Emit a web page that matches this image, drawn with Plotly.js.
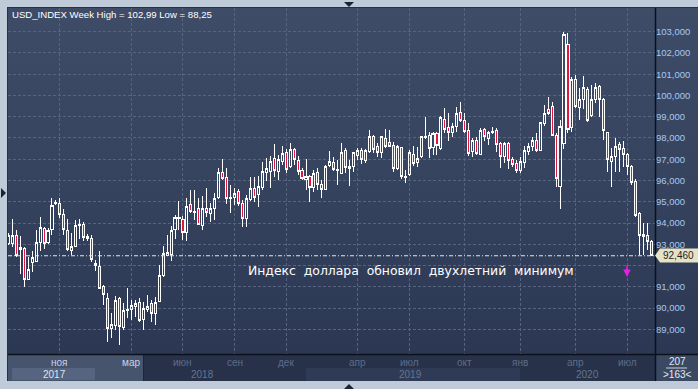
<!DOCTYPE html>
<html>
<head>
<meta charset="utf-8">
<script src="https://cdn.plot.ly/plotly-3.0.1.min.js"></script>
<style>
  html, body { margin:0; padding:0; background:#c0cbda; width:698px; height:389px; overflow:hidden; }
  #bg { position:absolute; left:8px; top:8px; width:690px; height:346px;
        background:linear-gradient(to bottom, #3f4c67 0%, #36435e 50%, #2c3853 100%); }
  #chart { position:absolute; left:0; top:0; width:698px; height:389px; }
  #chart .boxlayer path { shape-rendering: crispEdges; }
  #chart .gridlayer path { shape-rendering: crispEdges; }
</style>
</head>
<body>
<div id="bg"></div>
<div id="chart"></div>
<script>
// ---- DATA (weekly OHLC, USD_INDEX, 163 bars) ----
const openV = [
93.04,93.04,93.43,92.74,92.80,91.35,92.14,92.18,93.09,93.74,93.07,93.70,94.92,94.92,94.40,93.65,92.73,92.88,93.90,93.93,
93.38,93.27,92.10,91.97,91.00,90.45,89.04,89.20,90.45,89.09,89.90,89.93,90.09,90.25,89.46,89.93,90.22,89.75,90.30,91.52,
92.48,92.50,93.70,94.19,94.17,93.54,94.89,94.55,94.66,93.86,94.69,94.45,94.66,95.19,96.38,96.15,95.15,95.20,95.46,94.92,
94.22,95.11,95.63,95.32,95.68,96.40,96.41,97.04,96.41,96.91,97.31,96.68,97.46,96.93,96.46,96.07,96.21,95.68,96.38,95.82,
95.58,96.70,96.83,96.49,96.33,97.43,96.68,96.65,97.17,97.43,96.93,97.35,98.06,97.59,97.31,97.98,97.78,97.67,96.57,97.56,
96.21,96.26,97.24,96.84,97.12,98.01,98.14,97.56,98.19,97.51,98.85,98.48,98.25,98.53,99.19,98.84,98.37,97.35,97.90,97.24,
98.40,97.98,98.28,98.34,97.75,97.15,97.75,96.99,96.80,96.49,96.84,97.35,97.62,97.87,97.43,98.69,99.32,99.50,98.14,95.74,
97.75,102.42,98.50,100.73,99.44,99.79,100.30,99.08,99.82,100.44,99.82,98.25,96.88,97.15,97.71,97.51,97.20,96.65,95.97,94.45,
93.35,93.39,93.12];
const highV = [
93.55,94.18,93.67,93.38,92.85,92.40,92.70,93.67,94.30,93.82,93.78,95.16,95.08,95.16,94.64,94.18,93.51,94.14,94.20,94.06,
93.48,93.43,92.26,92.68,91.08,90.69,89.75,90.58,90.50,90.25,90.94,90.37,90.37,90.45,90.30,90.61,90.37,90.53,92.02,92.92,
93.43,93.86,94.37,95.03,94.33,95.16,95.55,95.55,95.16,95.27,95.67,94.96,95.39,96.57,96.99,96.57,95.78,95.63,95.58,95.08,
95.31,96.15,96.18,96.21,96.88,97.04,97.15,97.72,97.20,97.62,97.46,97.75,97.51,97.15,96.57,96.99,96.26,96.49,96.57,96.02,
96.73,97.40,97.09,96.96,97.75,97.51,96.96,97.36,97.51,97.51,97.46,98.37,98.14,97.75,98.06,98.41,98.37,97.83,97.67,97.59,
96.49,97.43,97.62,97.59,98.09,99.00,98.30,98.30,98.30,99.03,99.39,99.16,98.69,99.47,99.71,99.16,98.72,97.98,98.06,98.45,
98.45,98.34,98.53,98.45,97.83,97.83,97.83,97.09,96.96,97.12,97.62,97.75,98.03,98.22,98.77,99.55,99.94,99.71,98.22,98.84,
102.99,102.95,100.85,100.96,100.33,100.92,100.41,100.49,100.57,100.49,99.86,98.30,97.51,97.98,97.83,97.87,97.28,96.73,96.05,94.53,
94.01,93.98,93.20];
const lowV = [
92.95,92.88,92.41,91.60,91.01,91.30,91.70,92.15,92.70,92.76,93.00,93.43,94.84,94.25,93.43,92.68,92.49,92.85,93.27,93.17,
93.17,92.18,91.75,90.88,90.14,88.41,88.57,88.96,88.25,88.96,89.51,89.43,89.59,89.35,88.96,89.82,89.35,89.20,90.30,91.47,
92.45,92.22,93.23,93.67,93.20,93.15,94.45,94.14,93.90,93.67,94.26,94.06,94.14,95.11,96.02,94.89,94.45,94.84,94.80,93.79,
93.82,95.05,95.00,94.77,95.55,95.97,95.63,96.18,96.02,96.73,96.33,96.57,96.73,96.26,96.02,95.55,95.00,95.47,95.55,95.16,
95.55,96.65,96.46,95.79,96.30,96.37,95.76,96.41,96.96,96.77,96.80,97.28,97.28,97.12,97.04,97.51,97.56,96.41,96.49,96.05,
95.86,96.21,96.68,96.65,97.04,97.94,97.04,97.20,97.20,97.43,98.22,97.86,98.06,98.30,98.77,98.22,97.15,97.12,97.20,97.20,
97.87,97.67,98.19,97.35,96.57,96.80,96.52,96.62,96.37,96.37,96.57,97.20,97.40,97.35,97.40,98.56,99.08,98.14,95.71,94.64,
97.47,98.25,98.30,99.39,98.84,99.35,98.77,99.00,99.63,99.00,97.90,96.41,95.71,96.41,96.41,96.65,96.26,95.79,94.29,92.49,
92.49,92.72,92.46];
const closeV = [
93.43,93.43,92.49,92.84,91.35,91.82,92.38,93.09,93.79,93.03,93.67,94.84,94.98,94.40,93.70,92.76,92.90,93.89,93.92,93.32,
93.27,92.29,92.00,90.92,90.64,89.04,89.24,90.37,89.12,89.90,89.95,90.14,90.22,89.43,89.99,90.09,89.75,90.27,91.55,92.57,
92.59,93.67,94.26,94.27,93.54,94.80,94.53,94.50,93.95,94.69,94.48,94.69,95.16,96.38,96.10,95.16,95.20,95.39,94.92,94.22,
95.16,95.63,95.20,95.74,96.41,96.57,96.91,96.49,96.99,97.28,96.52,97.46,96.99,96.41,96.10,96.18,95.68,96.33,95.79,95.58,
96.68,96.91,96.52,96.54,97.32,96.62,96.57,97.31,97.43,96.99,97.40,98.06,97.46,97.31,98.06,97.59,97.59,96.57,97.59,96.18,
96.15,97.32,96.81,97.04,98.06,98.09,97.51,98.19,97.67,98.95,98.41,98.26,98.56,99.16,98.84,98.30,97.28,97.86,97.28,98.37,
98.06,98.26,98.32,97.71,97.15,97.75,96.96,96.77,96.49,96.88,97.40,97.62,97.87,97.43,98.72,99.16,99.16,98.14,96.10,98.56,
102.85,98.40,100.73,99.47,99.82,100.38,98.84,99.79,100.38,99.82,98.37,96.99,97.15,97.62,97.46,97.20,96.65,95.90,94.37,93.43,
93.48,93.12,92.46];
const barIndex = openV.map((_, i) => i);

// month ticks (bar index of first bar of month) and labels
const monthIdx  = [13, 31, 44, 57, 70, 88, 101, 115, 129, 143, 156];
const monthText = ['ноя','мар','июн','сен','дек','апр','июл','окт','янв','апр','июл'];
const yearText  = ['2017','2018','2019','2020'];
const priceTicks = [89,90,91,92,93,94,95,96,97,98,99,100,101,102,103];

const titleText = 'USD_INDEX Week High = 102,99 Low = 88,25';
const noteText  = 'Индекс доллара обновил двухлетний минимум';
const barsTotal = '207';
const barsShown = '>163<';

// ---- helpers: pixel -> paper ----
const L = 8, R = 655, T = 8, B = 354;
const px = x => (x - L) / (R - L);
const py = y => (B - y) / (B - T);
const fmt = v => v.toFixed(3).replace('.', ',');

function rect(x0, y0, x1, y1, color) {
  return {type:'rect', xref:'paper', yref:'paper', x0:px(x0), x1:px(x1), y0:py(y1), y1:py(y0),
          fillcolor:color, line:{width:0}, layer:'above'};
}
function hline(x0, x1, y, color, w) {
  return {type:'line', xref:'paper', yref:'paper', x0:px(x0), x1:px(x1), y0:py(y), y1:py(y),
          line:{color:color, width:w}, layer:'above'};
}
function vline(x, y0, y1, color, w) {
  return {type:'line', xref:'paper', yref:'paper', x0:px(x), x1:px(x), y0:py(y0), y1:py(y1),
          line:{color:color, width:w}, layer:'above'};
}
function poly(pts, color) {
  const d = pts.map((p, i) => (i ? 'L' : 'M') + px(p[0]).toFixed(5) + ',' + py(p[1]).toFixed(5)).join(' ') + ' Z';
  return {type:'path', xref:'paper', yref:'paper', path:d, fillcolor:color, line:{width:0}, layer:'above'};
}

const lastClose = closeV[closeV.length - 1];

const trace = {
  type:'candlestick', x:barIndex, open:openV, high:highV, low:lowV, close:closeV,
  increasing:{line:{color:'#ffffff', width:1}, fillcolor:'rgba(0,0,0,0)'},
  decreasing:{line:{color:'#ffffff', width:1}, fillcolor:'#e0173f'},
  whiskerwidth:0, hoverinfo:'none', showlegend:false
};

const shapes = [
  // bottom axis panel
  rect(8, 355, 655, 381, '#27324a'),
  rect(306, 368, 520, 381, '#2f3b56'),
  rect(8, 355, 143, 381, '#46546e'),
  vline(143.5, 355, 381, '#1e2638', 1),
  rect(12, 368, 95, 380, '#56647f'),
  rect(656, 355, 698, 381, '#3a4862'),
  hline(666, 687, 368, '#c8d2e2', 1),
  // plot borders
  hline(8, 698, 354.5, '#0b1019', 1.5),
  vline(655.5, 8, 381, '#0b1019', 1.5),
  vline(7.5, 7, 381, '#2a3140', 1),
  hline(7, 698, 7.5, '#2a3140', 1),
  // last price dashed line
  {type:'line', xref:'paper', yref:'y', x0:0, x1:1, y0:lastClose, y1:lastClose,
   line:{color:'#e6e6e6', width:1, dash:'4px,2px,1px,2px'}, layer:'above'},
  // price box with notch
  poly([[655, 255.5], [660, 248.5], [698, 248.5], [698, 262.5], [660, 262.5]], '#e4e4c4'),
  // frame triangles
  poly([[344, 2], [354, 2], [349, 7]], '#1c2433'),
  poly([[1, 188], [6, 193], [1, 198]], '#1c2433'),
  poly([[344, 389], [349, 384], [354, 389]], '#1c2433')
];

const annotations = [];
// title
annotations.push({xref:'paper', yref:'paper', x:px(10), y:py(14.5), xanchor:'left', yanchor:'middle',
  text:titleText, showarrow:false, font:{family:'Liberation Sans, Arial', size:9.6, color:'#ffffff'}});
// month labels
monthText.forEach((t, i) => {
  annotations.push({xref:'x', yref:'paper', x:monthIdx[i], y:py(362), xanchor:'center', yanchor:'middle',
    text:t, showarrow:false, font:{family:'Liberation Sans, Arial', size:10, color: i < 2 ? '#c6d3e8' : '#5e6c88'}});
});
// year labels
const yearPx = [54, 202, 410, 587];
yearText.forEach((t, i) => {
  annotations.push({xref:'paper', yref:'paper', x:px(yearPx[i]), y:py(374.5), xanchor:'center', yanchor:'middle',
    text:t, showarrow:false, font:{family:'Liberation Sans, Arial', size:10, color: i === 0 ? '#dce6f4' : '#66748f'}});
});
// bars counter
annotations.push({xref:'paper', yref:'paper', x:px(677), y:py(361.5), xanchor:'center', yanchor:'middle',
  text:barsTotal, showarrow:false, font:{family:'Liberation Sans, Arial', size:10, color:'#e2eaf6'}});
annotations.push({xref:'paper', yref:'paper', x:px(677), y:py(374.5), xanchor:'center', yanchor:'middle',
  text:barsShown, showarrow:false, font:{family:'Liberation Sans, Arial', size:10, color:'#e2eaf6'}});
// price label
annotations.push({xref:'paper', yref:'y', x:px(678), y:lastClose, xanchor:'center', yanchor:'middle',
  text:fmt(lastClose), showarrow:false, font:{family:'Liberation Sans, Arial', size:10, color:'#1e2230'}});
// comment
annotations.push({xref:'paper', yref:'paper', x:px(411), y:py(270.5), xanchor:'center', yanchor:'middle',
  text:noteText.split(' ').join(' \u00a0'), showarrow:false,
  font:{family:'DejaVu Sans, Verdana', size:12.4, color:'#ffffff'}});
// magenta arrow
annotations.push({xref:'paper', yref:'paper', x:px(627), y:py(277), ax:0, ay:-13, text:'', showarrow:true,
  arrowhead:2, arrowsize:1, arrowwidth:1.5, arrowcolor:'#e81ee8'});

const layout = {
  width:698, height:389,
  margin:{l:L, r:698 - R, t:T, b:389 - B, pad:0},
  paper_bgcolor:'rgba(0,0,0,0)', plot_bgcolor:'rgba(0,0,0,0)',
  separators:', ',
  showlegend:false,
  boxgap:0.25,
  xaxis:{type:'linear', range:[-0.08, 162.93], tickvals:monthIdx, showticklabels:false, ticks:'',
         showgrid:true, gridcolor:'#57647f', griddash:'3px,2px', gridwidth:1, zeroline:false, showline:false,
         rangeslider:{visible:false}, fixedrange:true},
  yaxis:{side:'right', range:[87.838, 104.115], tickvals:priceTicks,
         ticktext:priceTicks.map(v => v === 92 ? '' : fmt(v)), ticks:'',
         tickfont:{family:'Liberation Sans, Arial', size:9.5, color:'#a6c8f2'},
         showgrid:true, gridcolor:'#57647f', griddash:'3px,2px', gridwidth:1, zeroline:false, showline:false,
         fixedrange:true},
  shapes:shapes,
  annotations:annotations
};

Plotly.newPlot('chart', [trace], layout, {displayModeBar:false, staticPlot:true});
</script>
</body>
</html>
